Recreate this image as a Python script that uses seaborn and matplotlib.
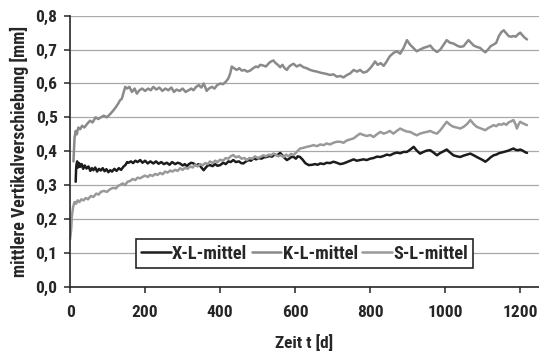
import matplotlib
matplotlib.use("Agg")
import matplotlib.pyplot as plt
from matplotlib.ticker import FuncFormatter, MultipleLocator
import pandas as pd
import seaborn as sns

# Zeit t [d] und mittlere Vertikalverschiebung [mm] je Messreihe
t_x = [15, 16, 17, 19, 21, 24, 27, 31, 35, 39, 44, 49, 54, 58, 62, 67, 72, 77, 82, 87,
       92, 97, 102, 107, 112, 118, 124, 130, 136, 142, 148, 152, 156, 162, 168, 174, 180,
       187, 193, 200, 207, 214, 222, 229, 236, 243, 250, 258, 265, 272, 280, 287, 293,
       300, 306, 311, 317, 323, 329, 336, 343, 350, 356, 362, 367, 373, 380, 387, 393,
       400, 408, 415, 422, 428, 435, 442, 450, 456, 462, 469, 476, 482, 489, 496, 503,
       510, 517, 524, 531, 538, 545, 552, 560, 566, 572, 578, 584, 590, 596, 602, 607,
       613, 620, 627, 636, 645, 653, 660, 667, 676, 684, 693, 702, 711, 720, 729, 738,
       747, 756, 764, 773, 782, 791, 800, 809, 818, 827, 836, 844, 853, 862, 871, 880,
       889, 898, 907, 916, 924, 933, 942, 951, 960, 969, 978, 987, 996, 1004, 1013, 1022,
       1031, 1040, 1049, 1058, 1067, 1076, 1084, 1093, 1100, 1107, 1114, 1121, 1129, 1136,
       1143, 1150, 1156, 1163, 1169, 1175, 1182, 1188, 1194, 1200, 1206, 1212, 1218]
v_x = [0.31, 0.345, 0.36, 0.37, 0.352, 0.365, 0.354, 0.362, 0.348, 0.358, 0.349, 0.355,
       0.342, 0.35, 0.344, 0.352, 0.34, 0.348, 0.343, 0.35, 0.341, 0.347, 0.338, 0.344,
       0.34, 0.348, 0.342, 0.35, 0.345, 0.354, 0.36, 0.368, 0.366, 0.37, 0.365, 0.372,
       0.368, 0.374, 0.366, 0.372, 0.364, 0.37, 0.364, 0.37, 0.363, 0.368, 0.362, 0.366,
       0.36, 0.368, 0.362, 0.366, 0.364, 0.358, 0.362, 0.356, 0.362, 0.366, 0.364, 0.358,
       0.362, 0.352, 0.344, 0.352, 0.358, 0.359, 0.356, 0.362, 0.357, 0.359, 0.366, 0.362,
       0.37, 0.368, 0.374, 0.368, 0.37, 0.365, 0.364, 0.37, 0.374, 0.372, 0.379, 0.376,
       0.38, 0.378, 0.382, 0.383, 0.386, 0.384, 0.39, 0.388, 0.395, 0.388, 0.38, 0.374,
       0.378, 0.383, 0.383, 0.378, 0.385, 0.383, 0.375, 0.365, 0.359, 0.36, 0.362, 0.36,
       0.364, 0.362, 0.366, 0.365, 0.369, 0.366, 0.362, 0.364, 0.368, 0.372, 0.376, 0.372,
       0.374, 0.376, 0.374, 0.378, 0.38, 0.384, 0.383, 0.386, 0.39, 0.388, 0.393, 0.396,
       0.394, 0.398, 0.398, 0.405, 0.413, 0.402, 0.393, 0.398, 0.402, 0.403, 0.396, 0.388,
       0.395, 0.4, 0.405, 0.396, 0.388, 0.385, 0.383, 0.387, 0.39, 0.393, 0.388, 0.383,
       0.378, 0.374, 0.369, 0.375, 0.382, 0.388, 0.39, 0.394, 0.396, 0.398, 0.4, 0.402,
       0.405, 0.408, 0.404, 0.403, 0.405, 0.402, 0.398, 0.395]

t_k = [9, 12, 15, 18, 22, 27, 32, 38, 45, 53, 60, 68, 75, 82, 90, 98, 107, 115, 122, 128,
       133, 138, 143, 147, 152, 158, 165, 172, 178, 185, 192, 200, 208, 215, 222, 230, 238,
       246, 254, 262, 270, 277, 284, 292, 300, 308, 316, 323, 329, 336, 343, 350, 356, 360,
       364, 370, 378, 385, 392, 400, 408, 415, 422, 427, 431, 437, 444, 451, 458, 465, 472,
       480, 488, 495, 501, 507, 515, 522, 530, 536, 542, 548, 554, 560, 566, 572, 578, 584,
       590, 596, 604, 613, 622, 631, 640, 649, 658, 667, 676, 684, 693, 702, 711, 720, 729,
       738, 747, 756, 765, 773, 782, 791, 800, 807, 813, 820, 828, 836, 844, 852, 862, 871,
       880, 889, 898, 906, 915, 924, 933, 942, 951, 960, 969, 978, 987, 996, 1004, 1013,
       1022, 1031, 1040, 1049, 1056, 1062, 1069, 1076, 1084, 1093, 1100, 1107, 1114, 1121,
       1129, 1136, 1143, 1150, 1156, 1163, 1169, 1175, 1182, 1188, 1194, 1200, 1206, 1212,
       1218]
v_k = [0.37, 0.44, 0.46, 0.45, 0.47, 0.465, 0.475, 0.47, 0.48, 0.49, 0.485, 0.5, 0.495,
       0.5, 0.505, 0.5, 0.51, 0.52, 0.53, 0.54, 0.55, 0.555, 0.575, 0.59, 0.585, 0.59,
       0.575, 0.585, 0.57, 0.58, 0.585, 0.578, 0.585, 0.58, 0.59, 0.582, 0.588, 0.578,
       0.585, 0.58, 0.588, 0.575, 0.582, 0.578, 0.585, 0.575, 0.58, 0.585, 0.58, 0.59,
       0.595, 0.588, 0.6, 0.59, 0.578, 0.585, 0.59, 0.585, 0.595, 0.6, 0.598, 0.605, 0.615,
       0.63, 0.65, 0.645, 0.64, 0.645, 0.638, 0.64, 0.635, 0.638, 0.645, 0.65, 0.648,
       0.655, 0.653, 0.65, 0.66, 0.665, 0.668, 0.66, 0.655, 0.648, 0.655, 0.645, 0.64,
       0.65, 0.655, 0.658, 0.65, 0.655, 0.648, 0.645, 0.64, 0.637, 0.635, 0.632, 0.63,
       0.628, 0.625, 0.627, 0.62, 0.622, 0.618, 0.625, 0.63, 0.64, 0.635, 0.64, 0.632,
       0.635, 0.645, 0.655, 0.665, 0.655, 0.66, 0.652, 0.665, 0.68, 0.69, 0.695, 0.688,
       0.705, 0.728, 0.715, 0.705, 0.695, 0.7, 0.705, 0.708, 0.712, 0.7, 0.693, 0.7, 0.715,
       0.728, 0.72, 0.718, 0.712, 0.708, 0.71, 0.72, 0.728, 0.72, 0.712, 0.708, 0.705,
       0.698, 0.692, 0.7, 0.71, 0.715, 0.72, 0.74, 0.752, 0.757, 0.748, 0.74, 0.738, 0.74,
       0.738, 0.745, 0.75, 0.742, 0.735, 0.73]

t_s = [0, 3, 5, 8, 12, 16, 20, 25, 30, 36, 42, 48, 55, 62, 70, 76, 82, 90, 98, 107, 115,
       122, 128, 133, 140, 147, 153, 160, 167, 174, 180, 187, 194, 200, 207, 213, 220, 227,
       233, 240, 247, 253, 260, 267, 273, 280, 287, 293, 300, 307, 313, 320, 327, 333, 340,
       347, 353, 360, 367, 373, 380, 387, 393, 400, 408, 415, 422, 428, 435, 442, 450, 457,
       465, 471, 478, 486, 493, 500, 507, 515, 522, 530, 536, 542, 548, 555, 562, 569, 576,
       582, 589, 596, 604, 613, 622, 631, 640, 649, 658, 667, 676, 684, 693, 702, 711, 720,
       729, 738, 747, 756, 764, 773, 782, 791, 800, 809, 818, 827, 836, 844, 852, 862, 871,
       880, 889, 898, 907, 915, 924, 933, 942, 951, 960, 969, 978, 987, 996, 1004, 1013,
       1022, 1031, 1040, 1049, 1058, 1067, 1076, 1084, 1093, 1100, 1107, 1114, 1121, 1129,
       1136, 1143, 1150, 1156, 1163, 1169, 1175, 1182, 1188, 1191, 1196, 1200, 1206, 1212,
       1218]
v_s = [0.14, 0.17, 0.21, 0.235, 0.25, 0.245, 0.255, 0.25, 0.258, 0.255, 0.262, 0.258,
       0.268, 0.265, 0.275, 0.272, 0.28, 0.283, 0.28, 0.288, 0.292, 0.29, 0.298, 0.3,
       0.305, 0.3, 0.31, 0.312, 0.318, 0.315, 0.322, 0.32, 0.325, 0.328, 0.324, 0.33,
       0.327, 0.333, 0.33, 0.336, 0.332, 0.34, 0.337, 0.343, 0.34, 0.345, 0.342, 0.35,
       0.345, 0.352, 0.348, 0.355, 0.352, 0.36, 0.355, 0.362, 0.358, 0.365, 0.362, 0.37,
       0.365, 0.372, 0.368, 0.375, 0.372, 0.38, 0.378, 0.385, 0.389, 0.382, 0.385, 0.378,
       0.38, 0.374, 0.38, 0.378, 0.385, 0.38, 0.383, 0.388, 0.385, 0.39, 0.388, 0.393,
       0.39, 0.385, 0.388, 0.383, 0.39, 0.385, 0.392, 0.389, 0.398, 0.408, 0.41, 0.413,
       0.415, 0.418, 0.415, 0.42, 0.418, 0.423, 0.42, 0.425, 0.428, 0.428, 0.425, 0.432,
       0.435, 0.438, 0.445, 0.452, 0.448, 0.445, 0.448, 0.442, 0.45, 0.457, 0.452, 0.455,
       0.46, 0.452, 0.46, 0.467, 0.462, 0.458, 0.457, 0.452, 0.447, 0.452, 0.455, 0.457,
       0.46, 0.455, 0.452, 0.462, 0.475, 0.487, 0.478, 0.472, 0.47, 0.467, 0.472, 0.48,
       0.492, 0.48, 0.472, 0.468, 0.465, 0.462, 0.468, 0.472, 0.477, 0.474, 0.48, 0.478,
       0.482, 0.478, 0.485, 0.488, 0.492, 0.478, 0.467, 0.48, 0.487, 0.483, 0.48, 0.477]

series_names = ["X-L-mittel", "K-L-mittel", "S-L-mittel"]
series_colors = ["#1c1c1c", "#8a8a8a", "#999999"]

df = pd.concat([
    pd.DataFrame({"t": t_x, "v": v_x, "Serie": series_names[0]}),
    pd.DataFrame({"t": t_k, "v": v_k, "Serie": series_names[1]}),
    pd.DataFrame({"t": t_s, "v": v_s, "Serie": series_names[2]}),
], ignore_index=True)

sns.set_style("white")
plt.rcParams["font.family"] = ["Roboto Condensed", "Liberation Sans", "DejaVu Sans"]
plt.rcParams["font.weight"] = "bold"

ink = "#262626"

fig = plt.figure(figsize=(5.39, 3.54), dpi=100)
ax = fig.add_axes([0.130, 0.190, 0.870, 0.7656])

sns.lineplot(data=df, x="t", y="v", hue="Serie", hue_order=series_names,
             palette=dict(zip(series_names, series_colors)), estimator=None,
             sort=False, linewidth=1.8, ax=ax)

ax.set_xlim(0, 1250)
ax.set_ylim(0, 0.8)
ax.xaxis.set_major_locator(MultipleLocator(200))
ax.yaxis.set_major_locator(MultipleLocator(0.1))
ax.yaxis.set_major_formatter(FuncFormatter(lambda v, p: f"{v:.1f}".replace(".", ",")))

ax.grid(axis="y", color="#a8a8a8", linewidth=0.9)
ax.grid(axis="x", visible=False)
for side in ("top", "right"):
    ax.spines[side].set_visible(False)
for side in ("left", "bottom"):
    ax.spines[side].set_color(ink)
    ax.spines[side].set_linewidth(1.2)

ax.tick_params(axis="both", which="major", direction="out", length=4, width=1.1,
               color=ink, labelsize=12.5, labelcolor=ink, left=True, bottom=True)
ax.tick_params(axis="y", pad=5)
ax.tick_params(axis="x", pad=9.5)
for lab in ax.get_xticklabels() + ax.get_yticklabels():
    lab.set_fontweight("bold")

ax.set_xlabel("Zeit t [d]", fontsize=12.5, fontweight="bold", color=ink, labelpad=10)
ax.set_ylabel("mittlere Vertikalverschiebung [mm]", fontsize=12.8, fontweight="bold",
              color=ink, labelpad=5)

handles, labels = ax.get_legend_handles_labels()
leg = ax.legend(handles, labels, ncol=3, loc="center", bbox_to_anchor=(0.5, 0.1225),
                frameon=True, fancybox=False, shadow=False, edgecolor=ink,
                framealpha=1, fontsize=13.2, handlelength=1.6, handletextpad=0.08,
                columnspacing=0.25, borderpad=0.28, borderaxespad=0)
leg.get_frame().set_linewidth(1.2)
for txt in leg.get_texts():
    txt.set_fontweight("bold")
    txt.set_color(ink)

fig.savefig("out.png", dpi=100, facecolor="white")
